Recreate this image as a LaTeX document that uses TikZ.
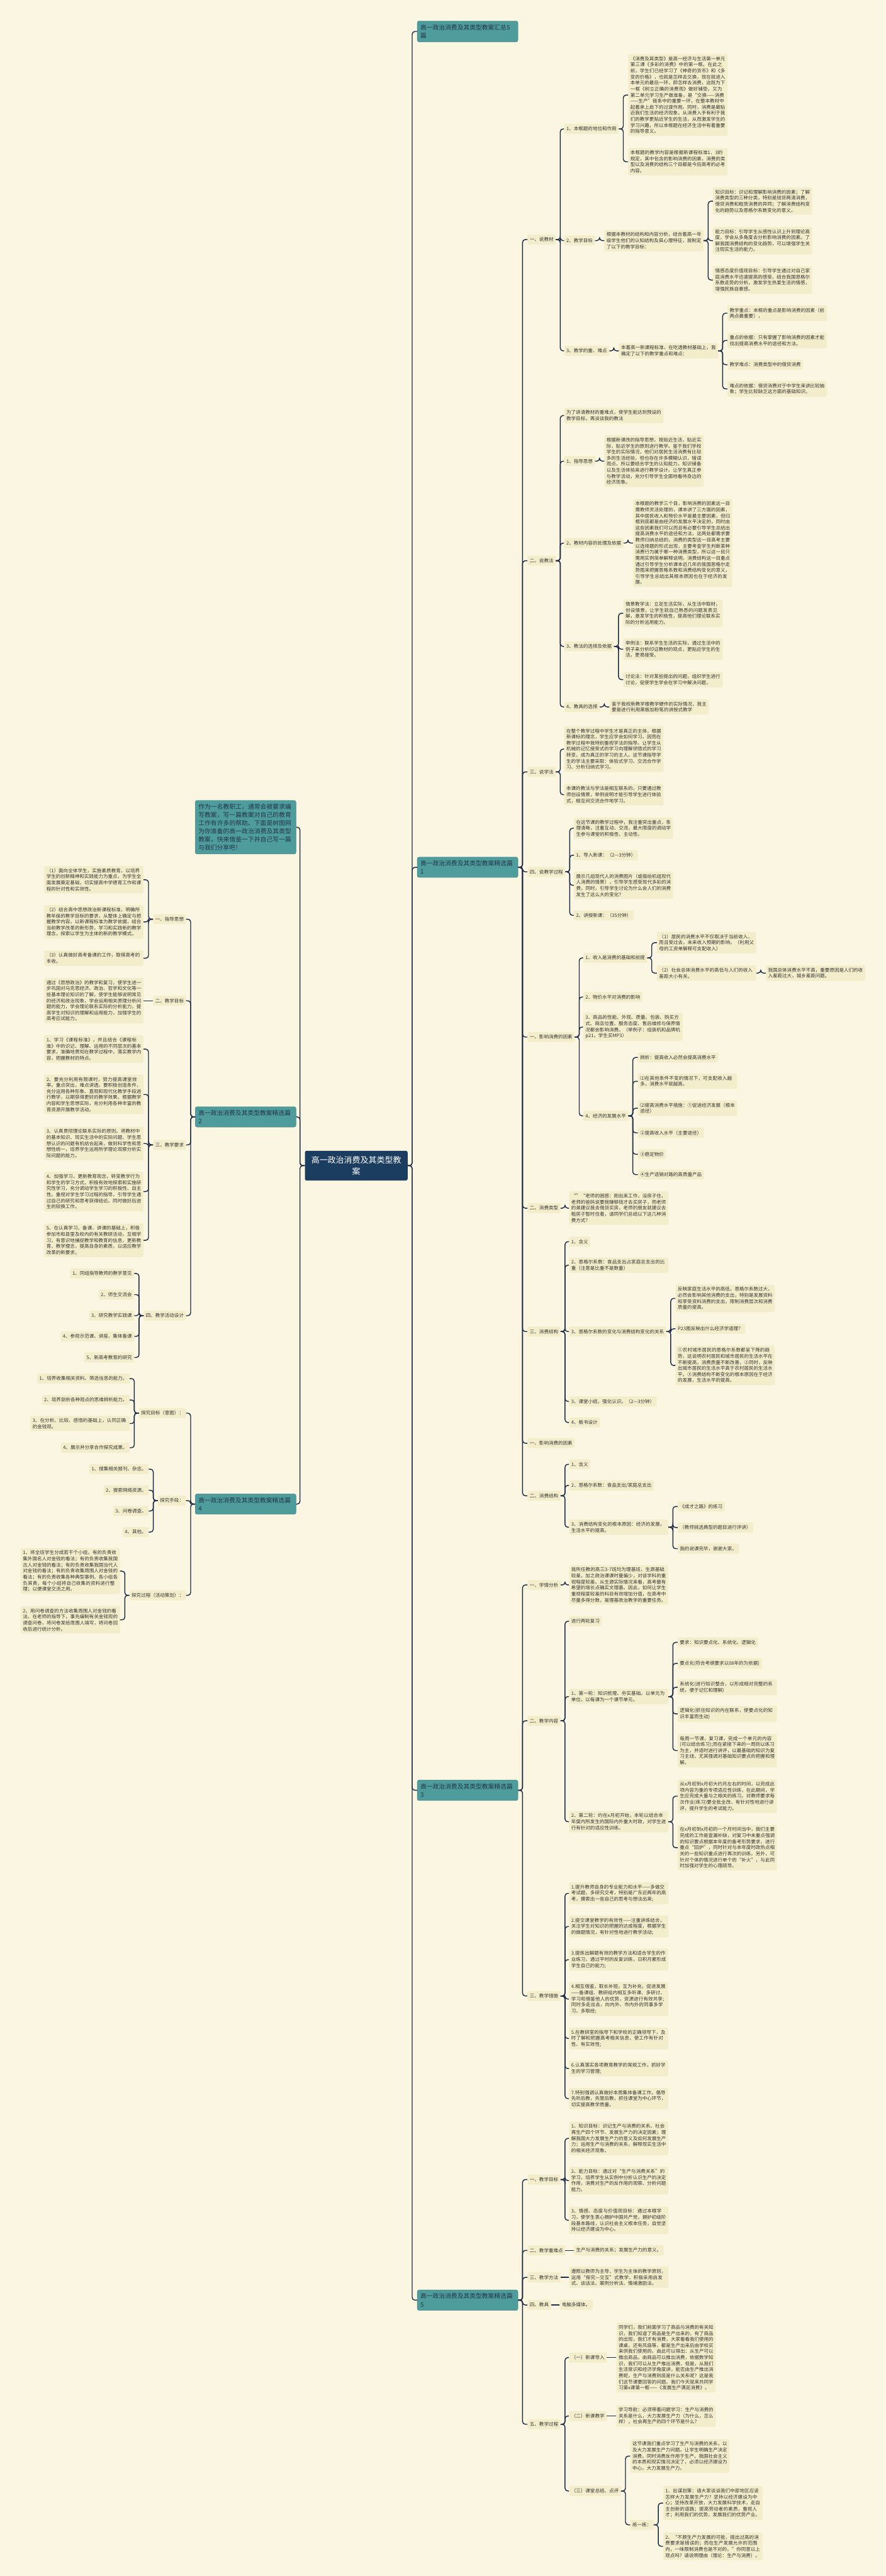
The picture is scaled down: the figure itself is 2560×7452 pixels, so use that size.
\documentclass[tikz,border=0pt]{standalone}
\usepackage{fontspec}
\setmainfont{Noto Sans CJK SC}
\XeTeXlinebreaklocale "zh"
\XeTeXlinebreakskip=0pt plus 1pt
\definecolor{paper}{HTML}{FAF6E1}
\definecolor{leafbg}{HTML}{F4EDCB}
\definecolor{topicteal}{HTML}{4F9C9D}
\definecolor{topicedge}{HTML}{3F8587}
\definecolor{topicink}{HTML}{22354A}
\definecolor{rootnavy}{HTML}{1B3D5F}
\definecolor{wire}{HTML}{1E2C47}
\definecolor{ink}{HTML}{333333}
\newcommand{\leaffont}{\fontsize{13.7}{17.5}\selectfont}
\newcommand{\topicfont}{\fontsize{17.8}{23.7}\selectfont}
\newcommand{\centrefont}{\fontsize{23.6}{32}\selectfont}

\begin{document}
\begin{tikzpicture}[
  x=1pt, y=-1pt,
  centre/.style={rectangle, rounded corners=5pt, fill=rootnavy, text=white, font=\centrefont, align=center, minimum width=297pt, minimum height=86pt},
  topic/.style={rectangle, rounded corners=5pt, fill=topicteal, draw=topicedge, line width=0.8pt, text=topicink, font=\topicfont, align=left, text width=273pt, inner xsep=9pt, inner ysep=10pt},
  tagbox/.style={rectangle, rounded corners=4pt, fill=leafbg, text=ink, font=\leaffont, inner xsep=6.5pt, inner ysep=8pt},
  textbox/.style={tagbox, text width=274pt, align=left, inner ysep=7pt},
  link/.style={draw=wire, line width=2.6pt, rounded corners=8pt}
]
  % Canvas
  \fill[paper] (0,0) rectangle (2560,7452);
  \useasboundingbox (0,0) rectangle (2560,7452);

  % Centre and topics
  \node[centre] (hub) at (1030, 3372) {高一政治消费及其类型教\\案};
  \node[topic, anchor=west] (sum) at (1206, 91) {高一政治消费及其类型教案汇总5\\篇};
  \node[topic, anchor=west] (pA) at (1206, 2509) {高一政治消费及其类型教案精选篇\\1};
  \node[topic, anchor=west] (pC) at (1206, 5179) {高一政治消费及其类型教案精选篇\\3};
  \node[topic, anchor=west] (pE) at (1206, 6654) {高一政治消费及其类型教案精选篇\\5};
  \node[topic, anchor=east] (intro) at (856, 2393) {作为一名教职工，通常会被要求编写教案，写一篇教案对自己的教育工作有许多的帮助。下面是树图网为你准备的高一政治消费及其类型教案，快来借鉴一下并自己写一篇与我们分享吧！};
  \node[topic, anchor=east] (pB) at (856, 3231) {高一政治消费及其类型教案精选篇\\2};
  \node[topic, anchor=east] (pD) at (856, 4351) {高一政治消费及其类型教案精选篇\\4};

  % Selection 1: teaching material
  \node[tagbox, anchor=west] (a1) at (1525, 693) {一、说教材};
  \node[tagbox, anchor=west] (b1) at (1631, 373) {1、本框题的地位和作用};
  \node[textbox, anchor=west] (c1) at (1816, 275) {《消费及其类型》是高一经济与生活第一单元第三课《多彩的消费》中的第一框。在此之前，学生们已经学习了《神奇的货币》和《多变的价格》，也就是怎样去交换，现在就进入本单元的最后一环，即怎样去消费，这既为下一框《树立正确的消费观》做好铺垫，又为第二单元学习生产做准备，是“交换——消费——生产”链条中的重要一环，在整本教材中起着承上启下的过渡作用。同时，消费是最贴近我们生活的经济现象，从消费入手有利于我们的教学更贴近学生的生活，从而激发学生的学习兴趣，所以本框题在经济生活中有着重要的指导意义。};
  \node[textbox, anchor=west] (c2) at (1816, 468) {本框题的教学内容是根据新课程标准1．3的规定，其中包含的影响消费的因素，消费的类型以及消费的结构三个目都是今后高考的必考内容。};
  \node[tagbox, anchor=west] (b2) at (1631, 696) {2、教学目标};
  \node[textbox, anchor=west] (c3) at (1747, 696) {根据本教材的结构和内容分析，结合着高一年级学生他们的认知结构及其心理特征，我制定了以下的教学目标：};
  \node[textbox, anchor=west] (d1) at (2061, 582) {知识目标：识记和理解影响消费的因素；了解消费类型的三种分类，特别是钱货两清消费，借贷消费和租赁消费的异同；了解消费结构变化的趋势以及恩格尔系数变化的意义。};
  \node[textbox, anchor=west] (d2) at (2061, 696) {能力目标：引导学生从感性认识上升到理论高度，学会从多角度去分析影响消费的因素。了解我国消费结构的变化趋势，可以增强学生关注现实生活的能力。};
  \node[textbox, anchor=west] (d3) at (2061, 810) {情感态度价值观目标：引导学生通过对自己家庭消费水平迅速提高的感受，结合我国恩格尔系数走势的分析，激发学生热爱生活的情感，增强民族自豪感。};
  \node[tagbox, anchor=west] (b3) at (1631, 1015) {3、教学的重、难点};
  \node[textbox, anchor=west] (c4) at (1789, 1015) {本着高一新课程标准，在吃透教材基础上，我确定了以下的教学重点和难点：};
  \node[textbox, anchor=west] (d4) at (2103, 906) {教学重点：本框的重点是影响消费的因素（前两点最重要），};
  \node[textbox, anchor=west] (d5) at (2103, 985) {重点的依据：只有掌握了影响消费的因素才能找出提高消费水平的途径和方法。};
  \node[tagbox, anchor=west] (d6) at (2103, 1055) {教学难点：消费类型中的借贷消费};
  \node[textbox, anchor=west] (d7) at (2103, 1125) {难点的依据：借贷消费对于中学生来讲比较抽象；学生比较缺乏这方面的基础知识。};

  % Selection 1: teaching method
  \node[tagbox, anchor=west] (a2) at (1525, 1622) {二、说教法};
  \node[textbox, anchor=west] (b4) at (1631, 1202) {为了讲清教材的重难点，使学生能达到预设的教学目标，再谈谈我的教法};
  \node[tagbox, anchor=west] (b5) at (1631, 1334) {1、指导思想};
  \node[textbox, anchor=west] (c5) at (1747, 1334) {根据新课改的指导思想，按贴近生活，贴近实际，贴近学生的原则进行教学。鉴于我们学校学生的实际情况，他们对居民生活消费有比较多的生活经验，但也存在许多模糊认识，错误观点，所以要结合学生的认知能力，知识储备以及生活体验来进行教学设计。让学生真正参与教学活动，充分引导学生全面地看待身边的经济现象。};
  \node[tagbox, anchor=west] (b6) at (1631, 1571) {2、教材内容的处理及依据};
  \node[textbox, anchor=west] (c6) at (1830, 1571) {本框题的教学三个目，影响消费的因素这一目需教师灵活处理的，课本讲了三方面的因素，其中居民收入和物价水平是最主要因素，但归根到底都是由经济的发展水平决定的，同时由这些因素我们可以而且有必要引导学生总结出提高消费水平的途径和方法，这两处都需求要教师归纳总结的。消费的类型这一目高考主要以选择题的形式出现，主要考查学生判断某种消费行为属于哪一种消费类型，所以这一目只需用实例简单解释说明。消费结构这一目重点通过引导学生分析课本近几年的我国恩格尔走势图来把握恩格系数和消费结构变化的意义，引导学生总结出其根本原因也在于经济的发展。};
  \node[tagbox, anchor=west] (b7) at (1631, 1870) {3、教法的选择及依据};
  \node[textbox, anchor=west] (c7) at (1802, 1774) {情景教学法：立足生活实际，从生活中取材，创设情景，让学生就自己熟悉的问题发表见解，激发学生的积极性，提高他们理论联系实际的分析运用能力。};
  \node[textbox, anchor=west] (c8) at (1802, 1878) {举例法：联系学生生活的实际，通过生活中的例子来分析印证教材的观点，更贴近学生的生活，更易接受。};
  \node[textbox, anchor=west] (c9) at (1802, 1966) {讨论法：针对某些提出的问题，组织学生进行讨论，促使学生学会在学习中解决问题，};
  \node[tagbox, anchor=west] (b8) at (1631, 2045) {4、教具的选择};
  \node[textbox, anchor=west] (c10) at (1762, 2045) {鉴于我校新教学楼教学硬件的实际情况，我主要是进行利用黑板加粉笔的讲授式教学};

  % Selection 1: learning method and process
  \node[tagbox, anchor=west] (a3) at (1525, 2233) {三、说学法};
  \node[textbox, anchor=west] (b9) at (1631, 2167) {在整个教学过程中学生才是真正的主体，根据新课标的理念，学生应学会如何学习，因而在教学过程中我特别重视学法的指导。让学生从机械的记忆接受式的学习向理解领悟式的学习转变，成为真正的学习的主人。这节课指导学生的学法主要采取：体验式学习、交流合作学习、分析归纳式学习。};
  \node[textbox, anchor=west] (b10) at (1631, 2299) {本课的教法与学法是相互联系的，只要通过教师创设情景，举例说明才能引导学生进行体验式，相互间交流合作地学习。};
  \node[tagbox, anchor=west] (a4) at (1525, 2522) {四、说教学过程};
  \node[textbox, anchor=west] (b11) at (1659, 2396) {在这节课的教学过程中，我注重突出重点，条理清晰，注重互动、交流，最大限度的调动学生参与课堂的积极性、主动性。};
  \node[tagbox, anchor=west] (b12) at (1659, 2474) {1、导入新课：（2—3分钟）};
  \node[textbox, anchor=west] (b13) at (1659, 2561) {展示几组现代人的消费图片（或描绘机组现代人消费的情景），引导学生感受现代多彩的消费，同时，引导学生讨论为什么会人们的消费发生了这么大的变化？};
  \node[tagbox, anchor=west] (b14) at (1659, 2648) {2、讲授新课：（35分钟）};

  % Selection 1: factors
  \node[tagbox, anchor=west] (a5) at (1525, 3000) {一、影响消费的因素};
  \node[tagbox, anchor=west] (b15) at (1686, 2771) {1、收入是消费的基础和前提};
  \node[textbox, anchor=west] (c11) at (1899, 2727) {（1）居民的消费水平不仅取决于当前收入，而且受过去，未来收入预期的影响。（利用父母的工资单解释可支配收入）};
  \node[textbox, anchor=west] (c12) at (1899, 2815) {（2）社会总体消费水平的高低与人们的收入差距大小有关。};
  \node[textbox, anchor=west] (d8) at (2214, 2815) {我国总体消费水平不高，重要原因是人们的收入差距过大，城乡差距问题。};
  \node[tagbox, anchor=west] (b16) at (1686, 2884) {2、物价水平对消费的影响};
  \node[textbox, anchor=west] (b17) at (1686, 2971) {3、商品的性能、外观、质量、包装、购买方式、商店位置、服务态度、售后维修与保养情况都会影响消费。（举例子：组装机和品牌机p21，学生买MP3）};
  \node[tagbox, anchor=west] (b18) at (1686, 3228) {4、经济的发展水平};
  \node[tagbox, anchor=west] (c13) at (1844, 3059) {辨析：提高收入必然会提高消费水平};
  \node[textbox, anchor=west] (c14) at (1844, 3128) {⑴在其他条件不变的情况下，可支配收入越多，消费水平就越高。};
  \node[textbox, anchor=west] (c15) at (1844, 3206) {⑵提高消费水平措施：①促进经济发展（根本途径）};
  \node[tagbox, anchor=west] (c16) at (1844, 3277) {②提高收入水平（主要途径）};
  \node[tagbox, anchor=west] (c17) at (1844, 3339) {③稳定物价};
  \node[tagbox, anchor=west] (c18) at (1844, 3398) {④生产适销对路的高质量产品};

  % Selection 1: types and structure
  \node[tagbox, anchor=west] (a6) at (1525, 3495) {二、消费类型};
  \node[textbox, anchor=west] (b19) at (1645, 3495) {“”“老师的困惑：刚出来工作，没房子住，老师的爸妈说要我赚够钱才去买房子，而老师的弟建议我去借贷买房，老师的朋友就建议去租房子暂时住着，请同学们总结以下这几种消费方式？};
  \node[tagbox, anchor=west] (a7) at (1525, 3852) {三、消费结构};
  \node[tagbox, anchor=west] (b20) at (1645, 3592) {1、含义};
  \node[textbox, anchor=west] (b21) at (1645, 3660) {2、恩格尔系数：食品支出占家庭总支出的比重（注意是比重不是数量）};
  \node[tagbox, anchor=west] (b22) at (1645, 3852) {3、恩格尔系数的变化与消费结构变化的关系};
  \node[textbox, anchor=west] (c19) at (1953, 3756) {反映家庭生活水平的高低，恩格尔系数过大，必然会影响其他消费的支出，特别是发展资料和享受资料消费的支出，限制消费层次和消费质量的提高。};
  \node[tagbox, anchor=west] (c20) at (1953, 3844) {P23图反映出什么经济学道理？};
  \node[textbox, anchor=west] (c21) at (1953, 3950) {①农村城市居民的恩格尔系数都呈下降的趋势，这说明农村居民和城市居民的生活水平在不断提高，消费质量不断改善，②同时，反映出城市居民的生活水平高于农村居民的生活水平。③消费结构不断变化的根本原因在于经济的发展，生活水平的提高。};
  \node[tagbox, anchor=west] (b23) at (1645, 4054) {3、课堂小结，强化认识。（2—3分钟）};
  \node[tagbox, anchor=west] (b24) at (1645, 4115) {4、板书设计};
  \node[tagbox, anchor=west] (a8) at (1525, 4175) {一、影响消费的因素};
  \node[tagbox, anchor=west] (a9) at (1525, 4327) {二、消费结构};
  \node[tagbox, anchor=west] (b25) at (1645, 4236) {1、含义};
  \node[tagbox, anchor=west] (b26) at (1645, 4297) {2、恩格尔系数：食品支出/家庭总支出};
  \node[textbox, anchor=west] (b27) at (1645, 4418) {3、消费结构变化的根本原因：经济的发展，生活水平的提高。};
  \node[tagbox, anchor=west] (c22) at (1959, 4358) {《成才之路》的练习};
  \node[tagbox, anchor=west] (c23) at (1959, 4419) {（教师挑选典型的题目进行评讲）};
  \node[tagbox, anchor=west] (c24) at (1959, 4480) {我的说课完毕，谢谢大家。};

  % Selection 3
  \node[tagbox, anchor=west] (a10) at (1525, 4585) {一、学情分析};
  \node[textbox, anchor=west] (b28) at (1645, 4585) {我所任教的高三3-7班均为理基班，生源基础较差，加之政治课课时量偏少，对该学科的重视程度较差。从生源实际情况来看，高考最有希望的增长点确实文理基。因此，如何让学生重视程度较差的科目有效增加分值，在高考中尽量多得分数，是理基政治教学的重要任务。};
  \node[tagbox, anchor=west] (a11) at (1525, 4978) {二、教学内容};
  \node[tagbox, anchor=west] (b29) at (1645, 4690) {进行两轮复习};
  \node[textbox, anchor=west] (b30) at (1645, 4908) {1、第一轮：知识梳理、夯实基础。以单元为单位，以每课为一个课节单元。};
  \node[tagbox, anchor=west] (c25) at (1959, 4751) {要求：知识要点化、系统化、逻辑化};
  \node[tagbox, anchor=west] (c26) at (1959, 4812) {要点化(符合考纲要求以08年的为依据)};
  \node[textbox, anchor=west] (c27) at (1959, 4881) {系统化(进行知识整合，以形成相对完整的系统，便于记忆和理解)};
  \node[textbox, anchor=west] (c28) at (1959, 4958) {逻辑化(抓住知识的内在联系，使要点化的知识丰富而生动)};
  \node[textbox, anchor=west] (c29) at (1959, 5064) {每周一节课，复习课，完成一个单元的内容(可以结合练习);而在紧接下来的一周则以练习为主，并适时进行讲评，以最基础的知识为复习主线，尤其强调对基础知识要点的把握和理解。};
  \node[textbox, anchor=west] (b31) at (1645, 5270) {2、第二轮：约在x月初开始，本轮以结合本年度内所发生的国际内外重大时政，对学生进行有针对的适应性训练。};
  \node[textbox, anchor=west] (c30) at (1959, 5196) {从x月初到x月初大约月左右的时间，以完成此项内容为重的专项适应性训练，在此期间，学生应完成大量与之相关的练习。对教师要求每次作业(练习)要全批全改，有针对性地进行讲评，提升学生的考试能力。};
  \node[textbox, anchor=west] (c31) at (1959, 5345) {在x月初到x月初的一个月时间当中，我们主要完成的工作是查漏补缺，对复习中未重点强调的知识要点根据本年度的备考形势要求，进行重点“回炉”，同时针对与本年度时政热点相关的一些知识重点进行再次的训练。另外，可针对个体的情况进行单个的“补火”，与此同时加强对学生的心理疏导。};
  \node[tagbox, anchor=west] (a12) at (1525, 5774) {三、教学措施};
  \node[textbox, anchor=west] (b32) at (1645, 5477) {1.提升教师自身的专业能力和水平——多做交考试题，多研究交考，特别是广东近两年的高考，摸索出一些自己的思考与想法出来;};
  \node[textbox, anchor=west] (b33) at (1645, 5573) {2.提交课堂教学的有效性——注重讲练结合，关注学生对知识的把握的达成程度，根据学生的做题情况，有针对性地进行教学活动;};
  \node[textbox, anchor=west] (b34) at (1645, 5669) {3.提炼出解题有效的教学方法和适合学生的作业练习，通过平时的反复训练，日积月累形成学生自己的能力;};
  \node[textbox, anchor=west] (b35) at (1645, 5783) {4.相互借鉴，取长补短，互为补充，促进发展——备课组、教研组内相互多听课、多研讨、学习和借鉴他人的优势，资源进行有效共享;同时多走出去，向内外、市内外的同事多学习、多取经;};
  \node[textbox, anchor=west] (b36) at (1645, 5897) {5.在教研室的指导下和学校的正确领导下，及时了解和把握高考相关信息，使工作有针对性、有实效性;};
  \node[textbox, anchor=west] (b37) at (1645, 5984) {6.认真落实各项教育教学的常规工作，抓好学生的学习管理;};
  \node[textbox, anchor=west] (b38) at (1645, 6071) {7.特别强调认真做好本周集体备课工作，倡导先听后教，先管后教，抓住课堂为中心环节，切实提高教学质量。};

  % Selection 5
  \node[tagbox, anchor=west] (a13) at (1525, 6305) {一、教学目标};
  \node[textbox, anchor=west] (b39) at (1645, 6186) {1、知识目标：识记生产与消费的关系、社会再生产四个环节、发展生产力的决定因素；理解我国大力发展生产力的意义及如何发展生产力；运用生产与消费的关系，解释现实生活中的相关经济现象。};
  \node[textbox, anchor=west] (b40) at (1645, 6308) {2、能力目标：通过对“生产与消费关系”的学习，培养学生从实例中分析认识生产的决定作用，消费对生产的反作用的观察、分析问题能力。};
  \node[textbox, anchor=west] (b41) at (1645, 6423) {3、情感、态度与价值观目标：通过本框学习，使学生衷心拥护中国共产党，拥护初级阶段基本路线，认识社会主义根本任务，自觉坚持以经济建设为中心。};
  \node[tagbox, anchor=west] (a14) at (1525, 6510) {二、教学重难点};
  \node[tagbox, anchor=west] (b42) at (1659, 6510) {生产与消费的关系；发展生产力的意义。};
  \node[tagbox, anchor=west] (a15) at (1525, 6588) {三、教学方法};
  \node[textbox, anchor=west] (b43) at (1645, 6588) {遵照以教师为主导、学生为主体的教学原则，运用“探究—交互”式教学，积极采用启发式、谈话法、案例分析法、情绪激励法。};
  \node[tagbox, anchor=west] (a16) at (1525, 6668) {四、教具};
  \node[tagbox, anchor=west] (b44) at (1618, 6668) {电脑多媒体。};
  \node[tagbox, anchor=west] (a17) at (1525, 7013) {五、教学过程};
  \node[tagbox, anchor=west] (b45) at (1645, 6820) {（一）新课导入};
  \node[textbox, anchor=west] (c32) at (1782, 6820) {同学们，我们前面学习了商品与消费的有关知识，我们知道了商品是生产出来的，有了商品的出现，我们才有消费，大家看看我们使用的课桌，还有风扇等，都是生产出来后由学校买来供我们使用的。由此可以得出：从生产可以推出商品，由商品可以推出消费，依据数学知识，我们可以从生产推出消费，但是，从我们生活常识和经济学角度讲，能否由生产推出消费呢，生产与消费到底是什么关系呢？这是我们这节课要回答的问题。我们今天就来共同学习第x课第一框——《发展生产满足消费》。};
  \node[tagbox, anchor=west] (b46) at (1645, 6989) {（二）新课教学};
  \node[textbox, anchor=west] (c33) at (1782, 6989) {学习导航：必须带着问题学习：生产与消费的关系是什么，大力发展生产力（为什么，怎么样），社会再生产的四个环节是什么？};
  \node[tagbox, anchor=west] (b47) at (1645, 7206) {（三）课堂总结、点评};
  \node[textbox, anchor=west] (c34) at (1822, 7105) {这节课我们重点学习了生产与消费的关系，以及大力发展生产力问题。让学生明确生产决定消费，同时消费反作用于生产。我国社会主义的本质和现实情况决定了，必须以经济建设为中心，大力发展生产力。};
  \node[tagbox, anchor=west] (c35) at (1822, 7304) {练一练：};
  \node[textbox, anchor=west] (d9) at (1917, 7241) {1、出谋划策：请大家谈谈我们中部地区应该怎样大力发展生产力？坚持以经济建设为中心；坚持改革开放，大力发展科学技术，走自主创新的道路；提高劳动者的素质，重视人才；利用我们的优势，发展我们的优势产业。};
  \node[textbox, anchor=west] (d10) at (1917, 7366) {2、“不顾生产力发展的可能，提出过高的消费要求是错误的；而在生产发展允许的范围内，一味限制消费也是不对的。”你同意以上观点吗？请说明理由（理论：生产与消费）。};

  % Selection 2 (left)
  \node[tagbox, anchor=east] (l1) at (538, 2659) {一、指导思想};
  \node[textbox, anchor=east] (m1) at (415, 2545) {（1）面向全体学生，实施素质教育，以培养学生的创新精神和实践能力为重点，为学生全面发展奠定基础，切实提高中学德育工作和课程的针对性和实效性。};
  \node[textbox, anchor=east] (m2) at (415, 2667) {（2）结合高中思想政治新课程标准，明确所教年级的教学目标的要求，从整体上确定与把握教学内容，以新课程标准为教学依据，结合当前教学改革的新形势，学习和实践新的教学理念，探索以学生为主体的新的教学模式。};
  \node[textbox, anchor=east] (m3) at (415, 2772) {（3）认真做好高考备课的工作，取得高考的丰收。};
  \node[tagbox, anchor=east] (l2) at (538, 2895) {二、教学目标};
  \node[textbox, anchor=east] (m4) at (415, 2895) {通过《思想政治》的教学和复习，使学生进一步巩固对马克思经济、政治、哲学和文化等一些基本理论知识的了解，使学生能够说明常见的经济和政治现象，学会运用相关原理分析问题的能力，学会理论联系实际的分析能力，提高学生对知识的理解和运用能力，加强学生的高考应试能力。};
  \node[tagbox, anchor=east] (l3) at (538, 3312) {三、教学要求};
  \node[textbox, anchor=east] (m5) at (415, 3035) {1、学习《课程标准》，并且结合《课程标准》中的识记、理解、运用的不同层次的基本要求，准确地贯彻在教学过程中，落实教学内容，把握教材的特点。};
  \node[textbox, anchor=east] (m6) at (415, 3166) {2、要充分利用有限课时，努力提高课堂效率。重点突出，难点讲透。要积极创造条件，充分运用各种形象、直观和现代化教学手段进行教学，以期获得更好的教学效果。根据教学内容和学生思想实际，充分利用各种丰富的教育资源开展教学活动。};
  \node[textbox, anchor=east] (m7) at (415, 3308) {3、认真贯彻理论联系实际的原则。将教材中的基本知识、现实生活中的实际问题、学生思想认识的问题有机结合起来，做到科学性和思想性统一，培养学生运用所学理论观察分析实际问题的能力。};
  \node[textbox, anchor=east] (m8) at (415, 3447) {4、加强学习，更新教育观念，转变教学行为和学生的学习方式，积极有效地探索和实施研究性学习，充分调动学生学习的积极性、自主性。重视对学生学习过程的指导，引导学生通过自己的研究和思考获得结论。同时做好后进生的较换工作。};
  \node[textbox, anchor=east] (m9) at (415, 3588) {5、在认真学习、备课、讲课的基础上，积极参加市和县里及校内的有关教研活动，互相学习，有意识地捕捉教学和教育的信息，更新教育、教学理念，提高自身的素质，以适应教学改革的新要求。};
  \node[tagbox, anchor=east] (l4) at (538, 3806) {四、教学活动设计};
  \node[tagbox, anchor=east] (m10) at (388, 3684) {1、同组指导教师的教学意见};
  \node[tagbox, anchor=east] (m11) at (388, 3745) {2、师生交流会};
  \node[tagbox, anchor=east] (m12) at (388, 3806) {3、研究教学实践课};
  \node[tagbox, anchor=east] (m13) at (388, 3866) {4、参观示范课、讲座、集体备课};
  \node[tagbox, anchor=east] (m14) at (388, 3927) {5、新高考教育的研究};

  % Selection 4 (left)
  \node[tagbox, anchor=east] (l5) at (538, 4088) {探究目标（意图）：};
  \node[tagbox, anchor=east] (m15) at (375, 3988) {1、培养收集相关资料、筛选信息的能力。};
  \node[tagbox, anchor=east] (m16) at (375, 4050) {2、培养剖析各种观点的思维辨析能力。};
  \node[textbox, anchor=east] (m17) at (375, 4118) {3、在分析、比较、感悟的基础上，认同正确的金钱观。};
  \node[tagbox, anchor=east] (m18) at (375, 4188) {4、展示并分享合作探究成果。};
  \node[tagbox, anchor=east] (l6) at (538, 4341) {探究手段：};
  \node[tagbox, anchor=east] (m19) at (430, 4250) {1、搜集相关报刊、杂志。};
  \node[tagbox, anchor=east] (m20) at (430, 4311) {2、搜索网络资源。};
  \node[tagbox, anchor=east] (m21) at (430, 4371) {3、问卷调查。};
  \node[tagbox, anchor=east] (m22) at (430, 4432) {4、其他。};
  \node[tagbox, anchor=east] (l7) at (538, 4615) {探究过程（活动策划）：};
  \node[textbox, anchor=east] (m23) at (347, 4545) {1、将全班学生分成若干个小组，有的负责收集外国名人对金钱的看法；有的负责收集我国古人对金钱的看法；有的负责收集我国当代人对金钱的看法；有的负责收集周围人对金钱的看法；有的负责收集各种典型事例。各小组各负其责，每个小组将自己收集的资料进行整理；以便课堂交流之用。};
  \node[textbox, anchor=east] (m24) at (347, 4686) {2、用问卷调查的方法收集周围人对金钱的看法。在老师的指导下，事先编制有关金钱观的调查问卷，将问卷发给周围人填写，将问卷回收后进行统计分析。};

  % Centre connections
  \draw[link] (hub.east) -- ++(13,0) |- (sum.west);
  \draw[link] (hub.east) -- ++(13,0) |- (pA.west);
  \draw[link] (hub.east) -- ++(13,0) |- (pC.west);
  \draw[link] (hub.east) -- ++(13,0) |- (pE.west);
  \draw[link] (hub.west) -- ++(-14,0) |- (intro.east);
  \draw[link] (hub.west) -- ++(-14,0) |- (pB.east);
  \draw[link] (hub.west) -- ++(-14,0) |- (pD.east);

  % Selection 1 connections
  \draw[link] (pA.east) -- ++(13,0) |- (a1.west);
  \draw[link] (pA.east) -- ++(13,0) |- (a2.west);
  \draw[link] (pA.east) -- ++(13,0) |- (a3.west);
  \draw[link] (pA.east) -- ++(13,0) |- (a4.west);
  \draw[link] (pA.east) -- ++(13,0) |- (a5.west);
  \draw[link] (pA.east) -- ++(13,0) |- (a6.west);
  \draw[link] (pA.east) -- ++(13,0) |- (a7.west);
  \draw[link] (pA.east) -- ++(13,0) |- (a8.west);
  \draw[link] (pA.east) -- ++(13,0) |- (a9.west);
  \draw[link] (a1.east) -- ++(13,0) |- (b1.west);
  \draw[link] (a1.east) -- ++(13,0) |- (b2.west);
  \draw[link] (a1.east) -- ++(13,0) |- (b3.west);
  \draw[link] (b1.east) -- ++(13,0) |- (c1.west);
  \draw[link] (b1.east) -- ++(13,0) |- (c2.west);
  \draw[link] (b2.east) -- ++(13,0) |- (c3.west);
  \draw[link] (c3.east) -- ++(13,0) |- (d1.west);
  \draw[link] (c3.east) -- ++(13,0) |- (d2.west);
  \draw[link] (c3.east) -- ++(13,0) |- (d3.west);
  \draw[link] (b3.east) -- ++(13,0) |- (c4.west);
  \draw[link] (c4.east) -- ++(13,0) |- (d4.west);
  \draw[link] (c4.east) -- ++(13,0) |- (d5.west);
  \draw[link] (c4.east) -- ++(13,0) |- (d6.west);
  \draw[link] (c4.east) -- ++(13,0) |- (d7.west);
  \draw[link] (a2.east) -- ++(13,0) |- (b4.west);
  \draw[link] (a2.east) -- ++(13,0) |- (b5.west);
  \draw[link] (a2.east) -- ++(13,0) |- (b6.west);
  \draw[link] (a2.east) -- ++(13,0) |- (b7.west);
  \draw[link] (a2.east) -- ++(13,0) |- (b8.west);
  \draw[link] (b5.east) -- ++(13,0) |- (c5.west);
  \draw[link] (b6.east) -- ++(13,0) |- (c6.west);
  \draw[link] (b7.east) -- ++(13,0) |- (c7.west);
  \draw[link] (b7.east) -- ++(13,0) |- (c8.west);
  \draw[link] (b7.east) -- ++(13,0) |- (c9.west);
  \draw[link] (b8.east) -- ++(13,0) |- (c10.west);
  \draw[link] (a3.east) -- ++(13,0) |- (b9.west);
  \draw[link] (a3.east) -- ++(13,0) |- (b10.west);
  \draw[link] (a4.east) -- ++(13,0) |- (b11.west);
  \draw[link] (a4.east) -- ++(13,0) |- (b12.west);
  \draw[link] (a4.east) -- ++(13,0) |- (b13.west);
  \draw[link] (a4.east) -- ++(13,0) |- (b14.west);
  \draw[link] (a5.east) -- ++(13,0) |- (b15.west);
  \draw[link] (a5.east) -- ++(13,0) |- (b16.west);
  \draw[link] (a5.east) -- ++(13,0) |- (b17.west);
  \draw[link] (a5.east) -- ++(13,0) |- (b18.west);
  \draw[link] (b15.east) -- ++(13,0) |- (c11.west);
  \draw[link] (b15.east) -- ++(13,0) |- (c12.west);
  \draw[link] (c12.east) -- ++(13,0) |- (d8.west);
  \draw[link] (b18.east) -- ++(13,0) |- (c13.west);
  \draw[link] (b18.east) -- ++(13,0) |- (c14.west);
  \draw[link] (b18.east) -- ++(13,0) |- (c15.west);
  \draw[link] (b18.east) -- ++(13,0) |- (c16.west);
  \draw[link] (b18.east) -- ++(13,0) |- (c17.west);
  \draw[link] (b18.east) -- ++(13,0) |- (c18.west);
  \draw[link] (a6.east) -- ++(13,0) |- (b19.west);
  \draw[link] (a7.east) -- ++(13,0) |- (b20.west);
  \draw[link] (a7.east) -- ++(13,0) |- (b21.west);
  \draw[link] (a7.east) -- ++(13,0) |- (b22.west);
  \draw[link] (a7.east) -- ++(13,0) |- (b23.west);
  \draw[link] (a7.east) -- ++(13,0) |- (b24.west);
  \draw[link] (b22.east) -- ++(13,0) |- (c19.west);
  \draw[link] (b22.east) -- ++(13,0) |- (c20.west);
  \draw[link] (b22.east) -- ++(13,0) |- (c21.west);
  \draw[link] (a9.east) -- ++(13,0) |- (b25.west);
  \draw[link] (a9.east) -- ++(13,0) |- (b26.west);
  \draw[link] (a9.east) -- ++(13,0) |- (b27.west);
  \draw[link] (b27.east) -- ++(13,0) |- (c22.west);
  \draw[link] (b27.east) -- ++(13,0) |- (c23.west);
  \draw[link] (b27.east) -- ++(13,0) |- (c24.west);

  % Selection 3 connections
  \draw[link] (pC.east) -- ++(13,0) |- (a10.west);
  \draw[link] (pC.east) -- ++(13,0) |- (a11.west);
  \draw[link] (pC.east) -- ++(13,0) |- (a12.west);
  \draw[link] (a10.east) -- ++(13,0) |- (b28.west);
  \draw[link] (a11.east) -- ++(13,0) |- (b29.west);
  \draw[link] (a11.east) -- ++(13,0) |- (b30.west);
  \draw[link] (a11.east) -- ++(13,0) |- (b31.west);
  \draw[link] (b30.east) -- ++(13,0) |- (c25.west);
  \draw[link] (b30.east) -- ++(13,0) |- (c26.west);
  \draw[link] (b30.east) -- ++(13,0) |- (c27.west);
  \draw[link] (b30.east) -- ++(13,0) |- (c28.west);
  \draw[link] (b30.east) -- ++(13,0) |- (c29.west);
  \draw[link] (b31.east) -- ++(13,0) |- (c30.west);
  \draw[link] (b31.east) -- ++(13,0) |- (c31.west);
  \draw[link] (a12.east) -- ++(13,0) |- (b32.west);
  \draw[link] (a12.east) -- ++(13,0) |- (b33.west);
  \draw[link] (a12.east) -- ++(13,0) |- (b34.west);
  \draw[link] (a12.east) -- ++(13,0) |- (b35.west);
  \draw[link] (a12.east) -- ++(13,0) |- (b36.west);
  \draw[link] (a12.east) -- ++(13,0) |- (b37.west);
  \draw[link] (a12.east) -- ++(13,0) |- (b38.west);

  % Selection 5 connections
  \draw[link] (pE.east) -- ++(13,0) |- (a13.west);
  \draw[link] (pE.east) -- ++(13,0) |- (a14.west);
  \draw[link] (pE.east) -- ++(13,0) |- (a15.west);
  \draw[link] (pE.east) -- ++(13,0) |- (a16.west);
  \draw[link] (pE.east) -- ++(13,0) |- (a17.west);
  \draw[link] (a13.east) -- ++(13,0) |- (b39.west);
  \draw[link] (a13.east) -- ++(13,0) |- (b40.west);
  \draw[link] (a13.east) -- ++(13,0) |- (b41.west);
  \draw[link] (a14.east) -- (b42.west);
  \draw[link] (a15.east) -- (b43.west);
  \draw[link] (a16.east) -- (b44.west);
  \draw[link] (a17.east) -- ++(13,0) |- (b45.west);
  \draw[link] (a17.east) -- ++(13,0) |- (b46.west);
  \draw[link] (a17.east) -- ++(13,0) |- (b47.west);
  \draw[link] (b45.east) -- (c32.west);
  \draw[link] (b46.east) -- (c33.west);
  \draw[link] (b47.east) -- ++(13,0) |- (c34.west);
  \draw[link] (b47.east) -- ++(13,0) |- (c35.west);
  \draw[link] (c35.east) -- ++(13,0) |- (d9.west);
  \draw[link] (c35.east) -- ++(13,0) |- (d10.west);

  % Selection 2 and 4 connections
  \draw[link] (pB.west) -- ++(-13,0) |- (l1.east);
  \draw[link] (pB.west) -- ++(-13,0) |- (l2.east);
  \draw[link] (pB.west) -- ++(-13,0) |- (l3.east);
  \draw[link] (pB.west) -- ++(-13,0) |- (l4.east);
  \draw[link] (l1.west) -- ++(-13,0) |- (m1.east);
  \draw[link] (l1.west) -- ++(-13,0) |- (m2.east);
  \draw[link] (l1.west) -- ++(-13,0) |- (m3.east);
  \draw[link] (l2.west) -- (m4.east);
  \draw[link] (l3.west) -- ++(-13,0) |- (m5.east);
  \draw[link] (l3.west) -- ++(-13,0) |- (m6.east);
  \draw[link] (l3.west) -- ++(-13,0) |- (m7.east);
  \draw[link] (l3.west) -- ++(-13,0) |- (m8.east);
  \draw[link] (l3.west) -- ++(-13,0) |- (m9.east);
  \draw[link] (l4.west) -- ++(-13,0) |- (m10.east);
  \draw[link] (l4.west) -- ++(-13,0) |- (m11.east);
  \draw[link] (l4.west) -- ++(-13,0) |- (m12.east);
  \draw[link] (l4.west) -- ++(-13,0) |- (m13.east);
  \draw[link] (l4.west) -- ++(-13,0) |- (m14.east);
  \draw[link] (pD.west) -- ++(-13,0) |- (l5.east);
  \draw[link] (pD.west) -- ++(-13,0) |- (l6.east);
  \draw[link] (pD.west) -- ++(-13,0) |- (l7.east);
  \draw[link] (l5.west) -- ++(-13,0) |- (m15.east);
  \draw[link] (l5.west) -- ++(-13,0) |- (m16.east);
  \draw[link] (l5.west) -- ++(-13,0) |- (m17.east);
  \draw[link] (l5.west) -- ++(-13,0) |- (m18.east);
  \draw[link] (l6.west) -- ++(-13,0) |- (m19.east);
  \draw[link] (l6.west) -- ++(-13,0) |- (m20.east);
  \draw[link] (l6.west) -- ++(-13,0) |- (m21.east);
  \draw[link] (l6.west) -- ++(-13,0) |- (m22.east);
  \draw[link] (l7.west) -- ++(-13,0) |- (m23.east);
  \draw[link] (l7.west) -- ++(-13,0) |- (m24.east);
\end{tikzpicture}
\end{document}
